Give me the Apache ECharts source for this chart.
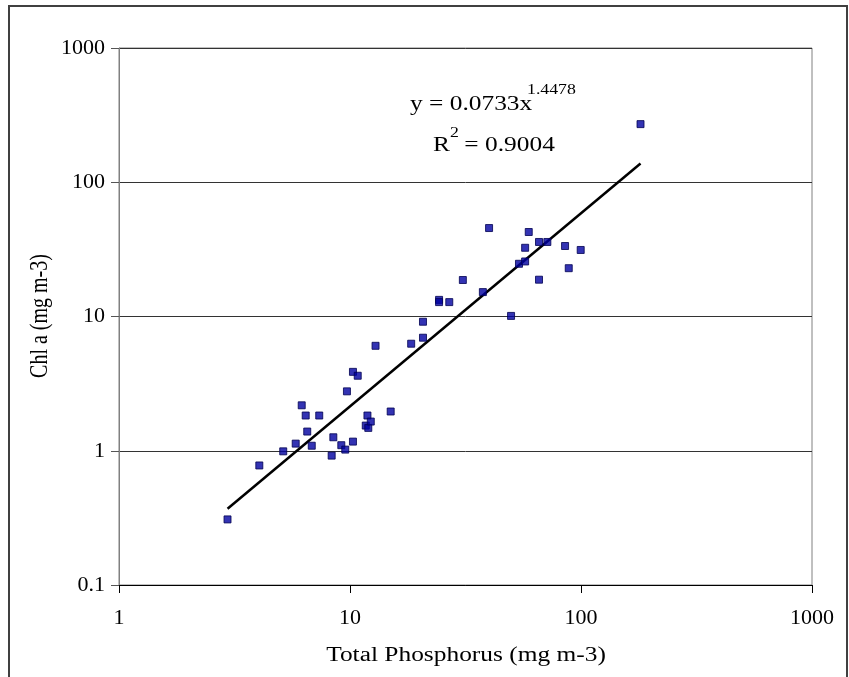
<!DOCTYPE html>
<html>
<head>
<meta charset="utf-8">
<title>Chl a vs Total Phosphorus</title>
<script src="https://cdn.jsdelivr.net/npm/echarts@6/dist/echarts.min.js"></script>
<style>
  html, body { margin: 0; padding: 0; background: #fff; }
  #chart { width: 849px; height: 677px; }
</style>
</head>
<body>
<div id="chart"></div>
<script>
// total phosphorus (mg m-3)
var tp = [2.95, 4.05, 5.14, 5.82, 6.18, 6.43, 6.53, 6.83, 7.36, 8.33, 8.47, 9.17, 9.54, 9.7,
  10.3, 10.3, 10.8, 11.7, 11.9, 12.0, 12.3, 12.9, 15.0, 18.4, 20.7, 20.7, 24.3, 24.3, 26.9,
  30.8, 37.6, 40.0, 49.8, 53.9, 57.3, 57.3, 59.4, 65.8, 65.8, 71.5, 85.3, 88.5, 99.7, 181]

// chl a (mg m-3), same order
var chl = [0.308, 0.777, 0.99, 1.13, 2.18, 1.83, 1.39, 1.09, 1.83, 0.92, 1.26, 1.10, 1.02, 2.77,
  1.17, 3.87, 3.62, 1.54, 1.83, 1.48, 1.65, 6.05, 1.96, 6.27, 9.14, 6.95, 13.3, 12.8, 12.8,
  18.7, 15.2, 45.6, 10.1, 24.7, 32.5, 25.7, 42.6, 35.9, 18.8, 35.9, 33.5, 22.9, 31.3, 271]

// power trend line ends
var trendX = [2.95, 181]
var trendY = [0.37, 138]

var eqText = 'y = 0.0733x'
var eqPower = '1.4478'
var r2Text = ' = 0.9004'

var points = []
for (var i = 0; i < tp.length; i++) {
  points.push([tp[i], chl[i]])
}

var trend = []
for (var j = 0; j < trendX.length; j++) {
  trend.push([trendX[j], trendY[j]])
}

var font = '"Liberation Serif", "Times New Roman", serif'
var stretch = 1.27

function plainNum (v) {
  return String(+v.toPrecision(6))
}

var chart = echarts.init(document.getElementById('chart'))

var option = {
  backgroundColor: '#fff',
  animation: false,
  grid: {
    left: 119,
    right: 37,
    top: 48,
    bottom: 92,
    show: true,
    borderColor: '#808080',
    borderWidth: 1
  },
  xAxis: {
    type: 'log',
    logBase: 10,
    min: 1,
    max: 1000,
    axisLine: { show: true, lineStyle: { color: '#000', width: 1 } },
    axisTick: { show: true, inside: false, length: 8, lineStyle: { color: '#000' } },
    minorTick: { show: false },
    splitLine: { show: false },
    axisLabel: { color: '#000', fontFamily: font, fontSize: 22, margin: 22, formatter: plainNum }
  },
  yAxis: {
    type: 'log',
    logBase: 10,
    min: 0.1,
    max: 1000,
    axisLine: { show: true, lineStyle: { color: '#808080', width: 1 } },
    axisTick: { show: true, inside: false, length: 8, lineStyle: { color: '#555' } },
    minorTick: { show: false },
    splitLine: { show: true, lineStyle: { color: '#333', width: 1 } },
    axisLabel: { color: '#000', fontFamily: font, fontSize: 22, margin: 14, formatter: plainNum }
  },
  series: [
    {
      type: 'scatter',
      data: points,
      symbol: 'rect',
      symbolSize: 7,
      itemStyle: { color: '#0000a0', borderColor: '#000050', borderWidth: 1 },
      z: 3
    },
    {
      type: 'line',
      data: trend,
      showSymbol: false,
      lineStyle: { color: '#000', width: 2.5 },
      z: 2
    }
  ],
  graphic: [
    {
      type: 'rect',
      shape: { x: 9, y: 6, width: 838, height: 700 },
      style: { fill: 'none', stroke: '#404040', lineWidth: 2 },
      silent: true
    },
    {
      type: 'text', x: 410, y: 105, scaleX: stretch,
      style: { text: eqText, font: '20px ' + font, fill: '#000', verticalAlign: 'middle' }
    },
    {
      type: 'text', x: 527, y: 90, scaleX: stretch,
      style: { text: eqPower, font: '14px ' + font, fill: '#000', verticalAlign: 'middle' }
    },
    {
      type: 'text', x: 433, y: 146, scaleX: stretch,
      style: { text: 'R', font: '20px ' + font, fill: '#000', verticalAlign: 'middle' }
    },
    {
      type: 'text', x: 450, y: 133, scaleX: stretch,
      style: { text: '2', font: '14px ' + font, fill: '#000', verticalAlign: 'middle' }
    },
    {
      type: 'text', x: 458, y: 146, scaleX: stretch,
      style: { text: r2Text, font: '20px ' + font, fill: '#000', verticalAlign: 'middle' }
    },
    {
      type: 'text', x: 466, y: 656, scaleX: stretch,
      style: { text: 'Total Phosphorus (mg m-3)', font: '20px ' + font, fill: '#000', align: 'center', verticalAlign: 'middle' }
    },
    {
      type: 'text', x: 40, y: 316, rotation: Math.PI / 2, scaleY: stretch,
      style: { text: 'Chl a (mg m-3)', font: '20px ' + font, fill: '#000', align: 'center', verticalAlign: 'middle' }
    }
  ]
}

chart.setOption(option)
</script>
</body>
</html>
